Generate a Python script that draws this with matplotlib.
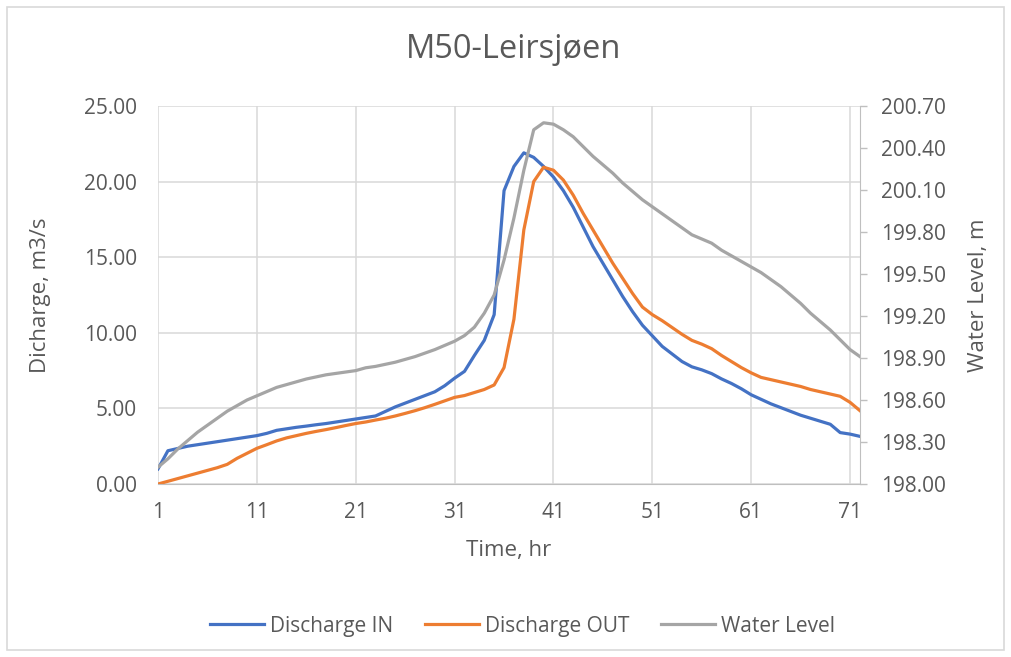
import numpy as np
import matplotlib.pyplot as plt
from matplotlib.patches import Rectangle

# hourly values
hours = np.arange(1, 73)

dischargeIn = [
    1.0, 2.2, 2.35, 2.5, 2.6, 2.7, 2.8, 2.9, 3.0, 3.1,
    3.2, 3.35, 3.55, 3.65, 3.75, 3.83, 3.92, 4.0, 4.1, 4.2,
    4.3, 4.4, 4.5, 4.8, 5.1, 5.35, 5.6, 5.85, 6.1, 6.5,
    7.0, 7.45, 8.5, 9.5, 11.2, 19.4, 21.0, 21.9, 21.6, 21.0,
    20.3, 19.4, 18.3, 17.0, 15.7, 14.6, 13.5, 12.4, 11.4, 10.5,
    9.8, 9.1, 8.6, 8.1, 7.75, 7.55, 7.3, 6.95, 6.65, 6.3,
    5.9, 5.6, 5.3, 5.05, 4.8, 4.55, 4.35, 4.15, 3.95, 3.4,
    3.3, 3.15,
]

dischargeOut = [
    0.0, 0.18, 0.36, 0.54, 0.72, 0.9, 1.08, 1.3, 1.7, 2.03,
    2.36, 2.6, 2.85, 3.05, 3.2, 3.35, 3.48, 3.6, 3.73, 3.87,
    4.0, 4.1, 4.23, 4.35, 4.5, 4.67, 4.85, 5.05, 5.27, 5.5,
    5.73, 5.85, 6.05, 6.25, 6.55, 7.7, 10.9, 16.8, 20.0, 20.95,
    20.75, 20.1, 19.1, 17.9, 16.8, 15.7, 14.6, 13.6, 12.6, 11.7,
    11.2, 10.8, 10.35, 9.9, 9.5, 9.25, 8.95, 8.5, 8.1, 7.7,
    7.35, 7.05, 6.9, 6.75, 6.6, 6.45, 6.25, 6.1, 5.95, 5.8,
    5.4, 4.85,
]

waterLevel = [
    198.12, 198.18, 198.25, 198.31, 198.37, 198.42, 198.47, 198.52, 198.56, 198.60,
    198.63, 198.66, 198.69, 198.71, 198.73, 198.75, 198.765, 198.78, 198.79, 198.80,
    198.81, 198.83, 198.84, 198.855, 198.87, 198.89, 198.91, 198.935, 198.96, 198.99,
    199.02, 199.06, 199.12, 199.22, 199.35, 199.60, 199.90, 200.24, 200.53, 200.58,
    200.57, 200.53, 200.48, 200.41, 200.34, 200.28, 200.22, 200.15, 200.09, 200.03,
    199.98, 199.93, 199.88, 199.83, 199.78, 199.75, 199.72, 199.67, 199.63, 199.59,
    199.55, 199.51, 199.46, 199.41, 199.35, 199.29, 199.22, 199.16, 199.10, 199.03,
    198.96, 198.91,
]

xTicks = [1, 11, 21, 31, 41, 51, 61, 71]
leftTicks = [0, 5, 10, 15, 20, 25]
rightTicks = [198.0, 198.3, 198.6, 198.9, 199.2, 199.5, 199.8, 200.1, 200.4, 200.7]

textColor = '#595959'
gridColor = '#D9D9D9'
axisColor = '#BFBFBF'

plt.rcParams['font.family'] = ['Open Sans', 'DejaVu Sans']

fig = plt.figure(figsize=(10.11, 6.57), dpi=100)
fig.patches.append(Rectangle((0.007, 0.011), 0.986, 0.979, transform=fig.transFigure,
                             fill=False, edgecolor=gridColor, linewidth=1.2))

ax = fig.add_axes([0.1563, 0.2633, 0.6943, 0.5754])
ax2 = ax.twinx()

lineIn, = ax.plot(hours, dischargeIn, color='#4472C4', linewidth=2.3, label='Discharge IN')
lineOut, = ax.plot(hours, dischargeOut, color='#ED7D31', linewidth=2.3, label='Discharge OUT')
lineWl, = ax2.plot(hours, waterLevel, color='#A5A5A5', linewidth=2.3, label='Water Level')

ax.set_xlim(1, 72)
ax.set_ylim(0, 25)
ax2.set_ylim(198.0, 200.7)

ax.set_xticks(xTicks)
ax.set_yticks(leftTicks)
ax.set_yticklabels(['%.2f' % v for v in leftTicks])
ax2.set_yticks(rightTicks)
ax2.set_yticklabels(['%.2f' % v for v in rightTicks])

ax.grid(True, color=gridColor, linewidth=1.1)
ax.set_axisbelow(True)

for a in (ax, ax2):
    for side in ('top', 'left', 'right'):
        a.spines[side].set_visible(False)
    a.spines['bottom'].set_color(axisColor)
ax2.spines['right'].set_visible(True)
ax2.spines['right'].set_color(axisColor)
ax2.spines['bottom'].set_visible(False)

ax.tick_params(axis='y', length=0, pad=15, labelsize=15, labelcolor=textColor)
ax.tick_params(axis='x', length=0, pad=13, labelsize=15, labelcolor=textColor)
ax2.tick_params(axis='y', length=5, width=1, color=axisColor, pad=10,
                labelsize=15, labelcolor=textColor)

ax.set_xlabel('Time, hr', fontsize=16, color=textColor, labelpad=12)
ax.set_ylabel('Dicharge, m3/s', fontsize=16, color=textColor, labelpad=24)
ax2.set_ylabel('Water Level, m', fontsize=16, color=textColor, labelpad=16)

fig.suptitle('M50-Leirsjøen', x=0.508, y=0.95, fontsize=23.5, color=textColor)

fig.legend(handles=[lineIn, lineOut, lineWl], loc='center', bbox_to_anchor=(0.517, 0.047),
           ncol=3, frameon=False, fontsize=15, labelcolor=textColor,
           handlelength=2.6, handletextpad=0.3, columnspacing=1.5)

fig.savefig('out.png', dpi=100)
